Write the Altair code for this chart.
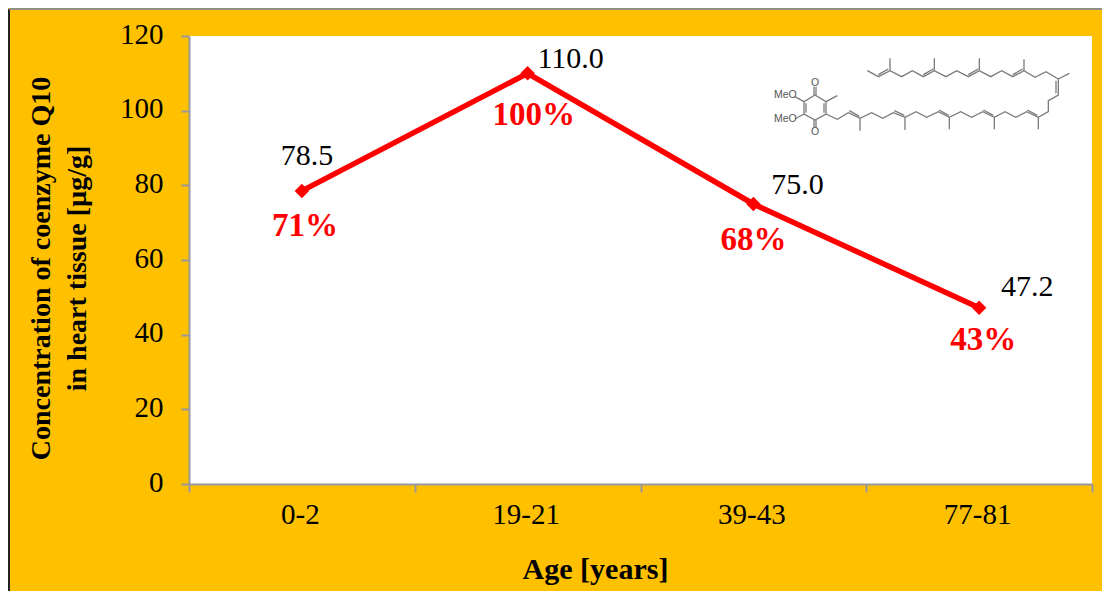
import altair as alt
import pandas as pd

ages = ["0-2", "19-21", "39-43", "77-81"]
values = [78.5, 110.0, 75.0, 47.2]
value_labels = ["78.5", "110.0", "75.0", "47.2"]
percents = ["71%", "100%", "68%", "43%"]
y_ticks = [0, 20, 40, 60, 80, 100, 120]

# Inset molecule drawing (zoomed-crop units)
chain_x = [352, 385, 420, 455, 487, 520, 553, 588, 620, 655, 688, 722, 755, 788, 822, 855, 888, 925, 925, 895, 895,
           865, 830, 797, 765, 733, 698, 665, 632, 598, 565, 530, 498, 465, 430, 398, 365, 330, 295, 262, 228]
chain_y = [92, 110, 92, 110, 92, 110, 92, 110, 92, 110, 92, 110, 92, 110, 92, 112, 95, 117, 165, 182, 215,
           232, 215, 232, 215, 232, 215, 232, 215, 232, 215, 232, 215, 232, 218, 235, 218, 235, 218, 238, 222]
ring_x = [195, 228, 228, 195, 162, 162, 195]
ring_y = [165, 185, 222, 240, 222, 185, 165]
# single and double-bond strokes: x1, y1, x2, y2
bonds = [
    (420, 92, 420, 55), (553, 92, 553, 55), (688, 92, 688, 55), (822, 92, 822, 58),
    (925, 117, 958, 100), (865, 232, 865, 268), (733, 232, 733, 268), (598, 232, 598, 268),
    (465, 232, 465, 270), (330, 235, 330, 272), (228, 185, 262, 167),
    (162, 185, 135, 170), (162, 222, 135, 237), (192, 165, 192, 140), (198, 165, 198, 140),
    (192, 240, 192, 263), (198, 240, 198, 263),
    (385, 104, 415, 87), (520, 104, 550, 87), (655, 104, 685, 87), (788, 104, 818, 87),
    (918, 122, 918, 160), (862, 226, 832, 210), (730, 226, 700, 210), (596, 226, 567, 210),
    (463, 226, 433, 212), (328, 229, 298, 212), (222, 190, 222, 218), (168, 190, 168, 218),
]
atoms = ["MeO", "MeO", "O", "O"]
atom_x = [106, 106, 195, 195]
atom_y = [166, 238, 128, 275]

df = pd.DataFrame({"age": ages, "value": values, "vlabel": value_labels, "pct": percents})
AMBER = "#FFC000"
SERIF = "Liberation Serif"
X = alt.X("age:N", sort=ages, scale=alt.Scale(type="band", paddingInner=0, paddingOuter=0),
          axis=alt.Axis(title="Age [years]", labelAngle=0, tickBand="extent", tickSize=8, tickColor="#999999",
                        domainColor="#999999", domainWidth=2, tickWidth=2, labelFontSize=29, labelFont=SERIF,
                        labelColor="#000000", labelPadding=8, labelOffset=-2, titleFont=SERIF, titleFontSize=30,
                        titleFontWeight="bold", titleColor="#000000", titleX=406, titleY=70, grid=False))
Y = alt.Y("value:Q", scale=alt.Scale(domain=[0, 120]),
          axis=alt.Axis(title=["Concentration of coenzyme Q10", "in heart tissue [µg/g]"], values=y_ticks, tickSize=8,
                        tickColor="#999999", domainColor="#999999", domainWidth=2, tickWidth=2, labelFontSize=29,
                        labelFont=SERIF, labelColor="#000000", labelPadding=18, labelOffset=-2, titleFont=SERIF,
                        titleFontSize=28, titleFontWeight="bold", titleColor="#000000", titleX=-134, titleY=232,
                        titleLineHeight=36, grid=False))

base = alt.Chart(df).encode(x=X, y=Y)
layers = [
    base.mark_line(color="#FF0000", strokeWidth=5.5),
    base.mark_point(shape="diamond", filled=True, color="#FF0000", size=210, opacity=1),
]
v_off = [(5, -35), (43, -14), (44, -19), (48, -21)]
p_off = [(3, 35), (6, 42), (0, 36), (4, 32)]
for i, age in enumerate(ages):
    row = base.transform_filter(alt.datum.age == age)
    layers.append(row.mark_text(font=SERIF, fontSize=30, color="#000000", dx=v_off[i][0], dy=v_off[i][1]).encode(text="vlabel:N"))
    layers.append(row.mark_text(font=SERIF, fontSize=33, fontWeight="bold", color="#FF0000", dx=p_off[i][0], dy=p_off[i][1]).encode(text="pct:N"))
main = alt.layer(*layers)

mx = alt.Scale(domain=[-1683, 1026])
my = alt.Scale(domain=[1332, -12])
poly = pd.DataFrame(
    [{"g": "chain", "o": i, "x": a, "y": b} for i, (a, b) in enumerate(zip(chain_x, chain_y))]
    + [{"g": "ring", "o": i, "x": a, "y": b} for i, (a, b) in enumerate(zip(ring_x, ring_y))]
)
mol_lines = alt.Chart(poly).mark_line(color="#7a7a7a", strokeWidth=1.3).encode(
    x=alt.X("x:Q", scale=mx, axis=None), y=alt.Y("y:Q", scale=my, axis=None), detail="g:N", order="o:Q")
bdf = pd.DataFrame(bonds, columns=["x", "y", "x2", "y2"])
mol_bonds = alt.Chart(bdf).mark_rule(color="#7a7a7a", strokeWidth=1.3).encode(
    x=alt.X("x:Q", scale=mx, axis=None), y=alt.Y("y:Q", scale=my, axis=None), x2="x2:Q", y2="y2:Q")
adf = pd.DataFrame({"x": atom_x, "y": atom_y, "t": atoms})
mol_text = alt.Chart(adf).mark_text(font="Liberation Sans", fontSize=10.5, color="#555555").encode(
    x=alt.X("x:Q", scale=mx, axis=None), y=alt.Y("y:Q", scale=my, axis=None), text="t:N")
mol = alt.layer(mol_lines, mol_bonds, mol_text)

frame_l = alt.Chart(df).mark_rule(color="#222222", strokeWidth=2).encode(
    x=alt.value(-180), y=alt.value(-27), y2=alt.value(555))
frame_t = alt.Chart(df).mark_rule(color="#8a8a8a", strokeWidth=1).encode(
    x=alt.value(-180), x2=alt.value(913), y=alt.value(-27))

chart = alt.layer(main, mol, frame_l, frame_t).resolve_scale(x="independent", y="independent").properties(
    width=903, height=448, background=AMBER,
    padding={"left": 181, "top": 28, "right": 10, "bottom": 107},
    autosize=alt.AutoSizeParams(type="none"),
).configure_view(fill="#FFFFFF", stroke=None)

chart.save("out.html", embed_options={"renderer": "svg", "actions": False})
